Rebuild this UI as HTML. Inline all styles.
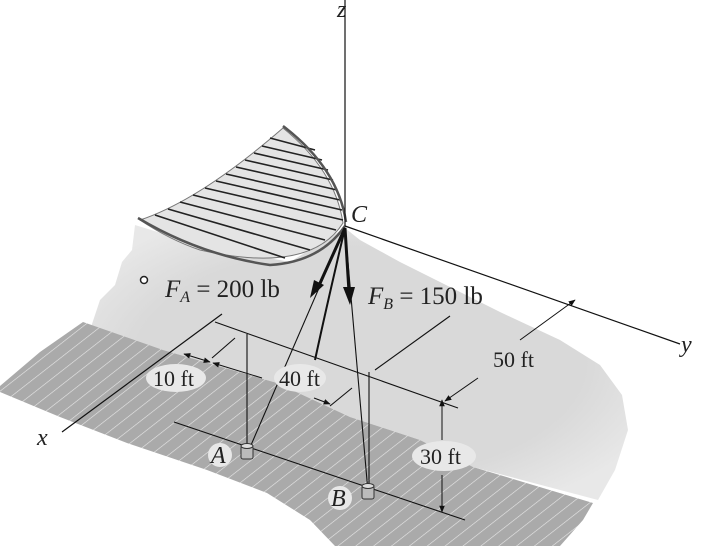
<!DOCTYPE html>
<html><head><meta charset="utf-8">
<style>
html,body{margin:0;padding:0;background:#fff;}
svg{display:block;font-family:"Liberation Serif",serif;}
</style></head>
<body>
<svg width="707" height="546" viewBox="0 0 707 546">
<defs>
<pattern id="hatch" width="11" height="11" patternUnits="userSpaceOnUse" patternTransform="rotate(52)">
<rect width="11" height="11" fill="#aaaaaa"/>
<line x1="0" y1="0" x2="0" y2="11" stroke="#e8e8e8" stroke-width="1.2"/>
</pattern>
<radialGradient id="wallg" cx="0.5" cy="0.5" r="0.6">
<stop offset="0.7" stop-color="#d9d9d9"/><stop offset="1" stop-color="#e8e8e8"/>
</radialGradient>
<marker id="ah" viewBox="0 0 10 10" refX="9" refY="5" markerWidth="7" markerHeight="7" orient="auto-start-reverse"><path d="M0,1 L10,5 L0,9 Z" fill="#111"/></marker>
</defs>
<path d="M135,225 L132,250 L122,262 L115,285 L100,300 L90,330 L163,350 L277,383 L350,417 L420,440 L473,467 L598,500 L615,470 L628,430 L622,395 L600,365 L560,340 L500,312 L440,282 L400,262 L360,240 L345,228 L290,262 L200,245 Z" fill="url(#wallg)"/>
<path d="M0,386 L40,352 L83,322 L163,350 L277,383 L350,417 L420,440 L473,467 L593,503 L583,520 L560,546 L335,546 L310,520 L267,493 L207,470 L127,443 L60,417 L0,392 Z" fill="url(#hatch)"/>
<path d="M283,128 Q335,170 343,223 Q310,275 200,250 Q170,240 140,220 Q200,200 283,128 Z" fill="#e4e4e4" stroke="#777" stroke-width="1"/>
<g stroke="#222" stroke-width="1.6">
<line x1="270" y1="138" x2="315" y2="150"/><line x1="262" y1="146" x2="322" y2="160"/>
<line x1="254" y1="153" x2="328" y2="170"/><line x1="245" y1="160" x2="333" y2="180"/>
<line x1="236" y1="167" x2="337" y2="190"/><line x1="226" y1="174" x2="340" y2="200"/>
<line x1="216" y1="181" x2="342" y2="210"/><line x1="205" y1="188" x2="343" y2="220"/>
<line x1="193" y1="195" x2="336" y2="230"/><line x1="180" y1="202" x2="325" y2="240"/>
<line x1="168" y1="209" x2="310" y2="250"/><line x1="155" y1="215" x2="285" y2="258"/>
</g>
<path d="M283,126 Q338,168 346,222" fill="none" stroke="#555" stroke-width="2.5"/>
<path d="M138,218 Q200,255 270,265 Q320,262 345,226" fill="none" stroke="#555" stroke-width="2.5"/>
<line x1="345" y1="0" x2="345" y2="226" stroke="#111" stroke-width="1.2"/>
<line x1="345" y1="226" x2="680" y2="344" stroke="#111" stroke-width="1.2"/>
<line x1="222" y1="314" x2="62" y2="432" stroke="#111" stroke-width="1.2"/>
<g stroke="#111" stroke-width="1.1" fill="none">
<line x1="215" y1="322" x2="458" y2="408"/>
<line x1="174" y1="422" x2="465" y2="520"/>
<line x1="247" y1="334" x2="247" y2="452"/>
<line x1="369" y1="372" x2="369" y2="492"/>
<line x1="375" y1="370" x2="450" y2="316"/>
<line x1="330" y1="406" x2="352" y2="388"/>
<line x1="345" y1="228" x2="248" y2="452"/>
<line x1="345" y1="228" x2="368" y2="492"/>
<path d="M345,228 Q328,300 315,360" stroke-width="2"/>
<line x1="235" y1="338" x2="212" y2="358"/>
</g>
<g stroke="#111" stroke-width="1" fill="none">
<line x1="520" y1="340" x2="575" y2="300" marker-end="url(#ah)"/>
<line x1="478" y1="378" x2="445" y2="401" marker-end="url(#ah)"/>
<line x1="442" y1="440" x2="442" y2="400" marker-end="url(#ah)"/>
<line x1="442" y1="475" x2="442" y2="512" marker-end="url(#ah)"/>
<line x1="184" y1="354" x2="210" y2="362" marker-start="url(#ah)" marker-end="url(#ah)"/>
<line x1="213" y1="363" x2="262" y2="378" marker-start="url(#ah)"/>
<line x1="314" y1="398" x2="330" y2="404" marker-end="url(#ah)"/>
</g>
<line x1="345" y1="228" x2="316" y2="292" stroke="#111" stroke-width="3"/>
<path d="M310,298 L314,280 L324,285 Z" fill="#111"/>
<line x1="345" y1="228" x2="349" y2="292" stroke="#111" stroke-width="3"/>
<path d="M350,305 L343,287 L355,287 Z" fill="#111"/>
<g><rect x="241" y="446" width="12" height="13" rx="2" fill="#bbb" stroke="#333"/><ellipse cx="247" cy="446" rx="6" ry="2.5" fill="#ddd" stroke="#333"/></g>
<g><rect x="362" y="486" width="12" height="13" rx="2" fill="#bbb" stroke="#333"/><ellipse cx="368" cy="486" rx="6" ry="2.5" fill="#ddd" stroke="#333"/></g>
<circle cx="144" cy="280" r="3.5" fill="#fff" stroke="#222" stroke-width="1.5"/>
<g fill="#e8e8e8">
<ellipse cx="176" cy="378" rx="30" ry="14"/><ellipse cx="300" cy="378" rx="26" ry="14"/>
<ellipse cx="444" cy="456" rx="32" ry="15"/><ellipse cx="220" cy="455" rx="12" ry="12"/>
<ellipse cx="340" cy="498" rx="12" ry="12"/>
</g>
<g font-size="24" fill="#222">
<text x="337" y="17" font-style="italic">z</text>
<text x="351" y="222" font-style="italic">C</text>
<text x="681" y="352" font-style="italic">y</text>
<text x="37" y="445" font-style="italic">x</text>
<text x="165" y="297" font-size="25"><tspan font-style="italic">F</tspan><tspan font-style="italic" font-size="16" dy="5">A</tspan><tspan dy="-5"> = 200 lb</tspan></text>
<text x="368" y="304" font-size="25"><tspan font-style="italic">F</tspan><tspan font-style="italic" font-size="16" dy="5">B</tspan><tspan dy="-5"> = 150 lb</tspan></text>
<text x="153" y="386" font-size="22">10 ft</text>
<text x="279" y="386" font-size="22">40 ft</text>
<text x="493" y="367" font-size="22">50 ft</text>
<text x="420" y="464" font-size="22">30 ft</text>
<text x="211" y="463" font-style="italic">A</text>
<text x="331" y="506" font-style="italic">B</text>
</g>
</svg>
</body></html>
